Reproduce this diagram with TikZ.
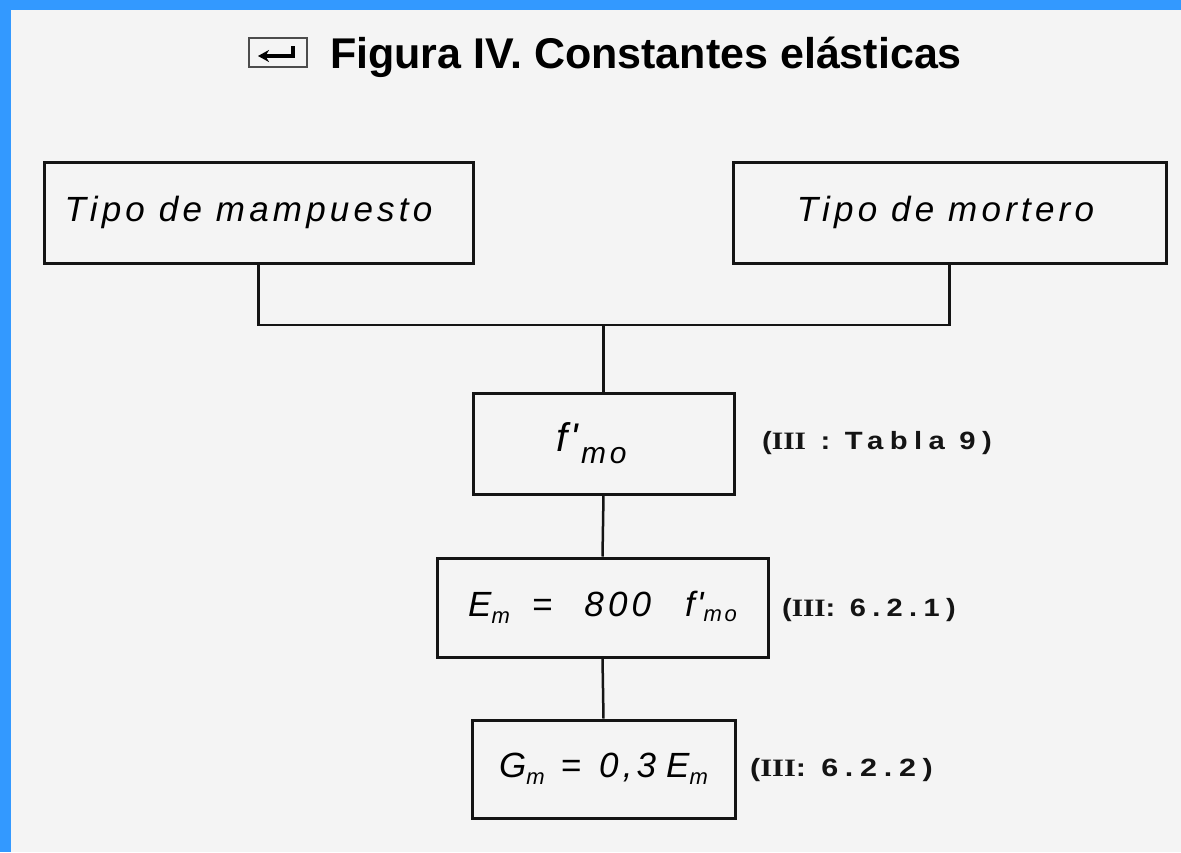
\documentclass[tikz,border=0pt]{standalone}
\usepackage{fontspec}
\usepackage{graphicx}
\setmainfont{Liberation Sans}
\newfontfamily\handfont{Liberation Sans}[LetterSpace=12]
\newfontfamily\lblfont{Liberation Sans}[LetterSpace=22]
\newfontfamily\romfont{Liberation Serif}
\usetikzlibrary{arrows.meta}
\definecolor{frameblue}{RGB}{51,153,255}
\definecolor{paper}{RGB}{244,244,244}
\definecolor{ink}{RGB}{20,20,20}
\newcommand\romIII{{\romfont\bfseries III}}
\newcommand\sbs[2][-7pt]{\raisebox{#1}{\fontsize{22}{22}\selectfont #2}}
\tikzset{
  box/.style={draw=ink, line width=3pt, inner sep=0pt, font=\handfont\itshape\fontsize{35}{40}\selectfont},
  lbl/.style={anchor=west, inner sep=0pt, text=ink, font=\lblfont\bfseries\fontsize{25}{28}\selectfont},
  link/.style={draw=ink, line width=2.5pt},
}
\begin{document}
\begin{tikzpicture}[x=1pt,y=-1pt]
\useasboundingbox (0,0) rectangle (1181,852);
\fill[frameblue] (0,0) rectangle (1181,852);
\fill[paper] (11,10) rectangle (1181,852);
% title icon
\draw[gray!60!black, line width=2.5pt] (249,38) rectangle (307,67);
\draw[black, line width=3.5pt, -{Stealth[length=11pt,width=12pt]}] (293,46) -- (293,56) -- (258,56);
\node[anchor=base west, inner sep=0pt, font=\bfseries\fontsize{43}{48}\selectfont] (title) at (330,68) {Figura IV. Constantes elásticas};
% boxes
\node[box, minimum width=429pt, minimum height=101pt] (m1) at (258.5,212.5) {Tipo de mampuesto\kern20pt};
\node[box, minimum width=433pt, minimum height=101pt] (m2) at (949.5,212.5) {Tipo de mortero\kern8pt};
\node[box, minimum width=261pt, minimum height=101pt] (f) at (603.5,443.5) {\fontsize{40}{40}\selectfont f\kern3pt'\kern3pt\raisebox{-12pt}{\fontsize{30}{30}\selectfont mo}\kern24pt};
\node[box, minimum width=331pt, minimum height=99pt] (em) at (602.5,607.5) {E\sbs{m}\kern22pt=\kern32pt800\kern34pt f\kern2pt'\sbs[-5pt]{mo}};
\node[box, minimum width=263pt, minimum height=98pt] (gm) at (603.5,769) {G\sbs{m}\kern16pt=\kern18pt0,3\kern10pt E\sbs{m}};
% labels
\node[lbl] (l1) at (762,443) {\scalebox{1.17}[1]{(\romIII\ :\ Tabla\ 9)}};
\node[lbl] (l2) at (782,610) {\scalebox{1.16}[1]{(\romIII: 6.2.1)}};
\node[lbl] (l3) at (750,770) {\scalebox{1.22}[1]{(\romIII: 6.2.2)}};
% connectors
\coordinate (j) at (603.5,325);
\draw[link] (m1.south) |- (j) -| (m2.south);
\draw[link] (j) -- (f.north);
\draw[link] (f.south) -- (em.north);
\draw[link] (em.south) -- (gm.north);
\end{tikzpicture}
\end{document}
